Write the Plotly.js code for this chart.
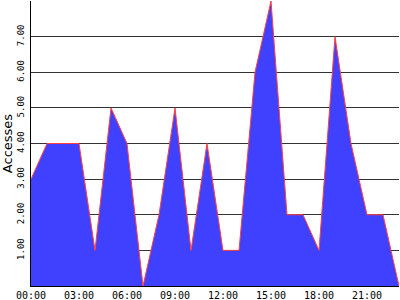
<!DOCTYPE html>
<html>
<head>
<meta charset="utf-8">
<script src="https://cdn.plot.ly/plotly-3.0.1.min.js"></script>
<style>html,body{margin:0;padding:0;background:#fff;}#chart{width:400px;height:300px;}</style>
</head>
<body>
<div id="chart"></div>
<script>
const hours = [0,1,2,3,4,5,6,7,8,9,10,11,12,13,14,15,16,17,18,19,20,21,22,23];
const accesses = [3,4,4,4,1,5,4,0,2,5,1,4,1,1,6,8,2,2,1,7,4,2,2,0];
const xTickVals = [0,3,6,9,12,15,18,21];
const xTickText = ['00:00','03:00','06:00','09:00','12:00','15:00','18:00','21:00'];
const yTickVals = [1,2,3,4,5,6,7,8];
const yTickText = ['1.00','2.00','3.00','4.00','5.00','6.00','7.00',''];

const trace = {
  x: hours, y: accesses, type: 'scatter', mode: 'lines',
  fill: 'tozeroy', fillcolor: 'rgb(64,64,255)',
  line: {color: 'rgb(255,64,64)', width: 1, shape: 'linear'},
  hoverinfo: 'none'
};
const layout = {
  width: 400, height: 300,
  margin: {l: 31, r: 1, t: 1, b: 14, pad: 0},
  paper_bgcolor: '#fff', plot_bgcolor: '#fff',
  showlegend: false,
  xaxis: {
    range: [0, 23], tickvals: xTickVals, ticktext: xTickText,
    showgrid: false, zeroline: false, showline: true, linecolor: '#000', linewidth: 1,
    ticks: '', tickfont: {family: 'DejaVu Sans Mono', size: 10, color: '#000'},
    automargin: false
  },
  yaxis: {
    range: [0, 8], tickvals: yTickVals, ticktext: yTickText, tickangle: -90,
    showgrid: true, gridcolor: '#333333', gridwidth: 1,
    zeroline: false, showline: true, linecolor: '#000', linewidth: 1,
    ticks: '', ticklabelstandoff: 2,
    tickfont: {family: 'DejaVu Sans Mono', size: 9, color: '#000'},
    title: {text: 'Accesses', font: {family: 'DejaVu Sans', size: 13, color: '#000'}, standoff: 4},
    automargin: false
  }
};
Plotly.newPlot('chart', [trace], layout, {staticPlot: true, displayModeBar: false});
</script>
</body>
</html>
